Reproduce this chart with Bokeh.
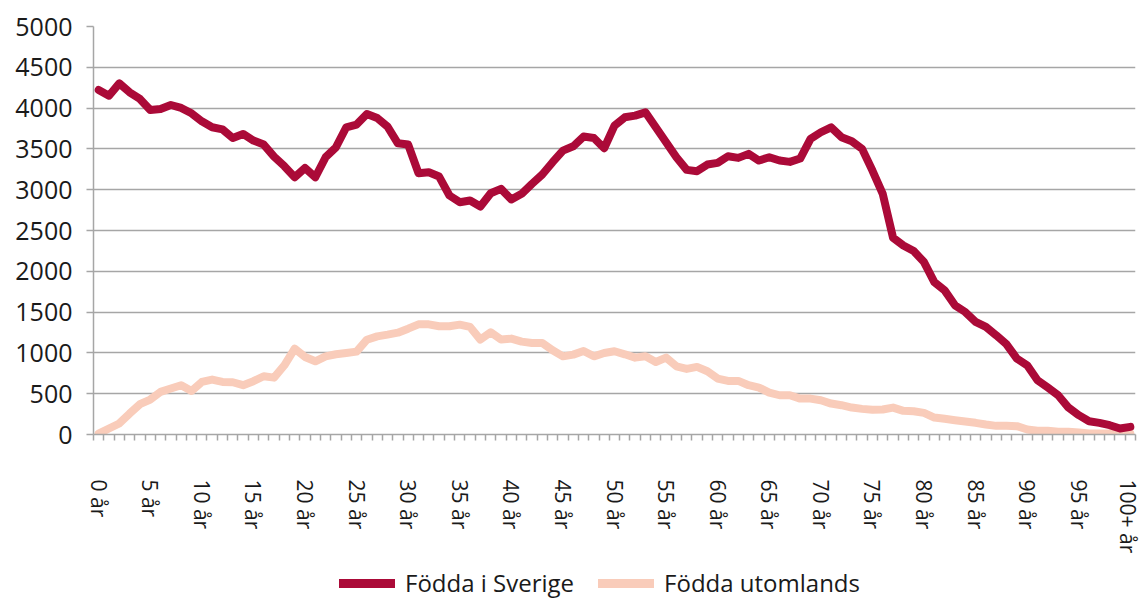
import math
from bokeh.plotting import figure
from bokeh.layouts import column
from bokeh.models import FixedTicker, Legend, LegendItem, Range1d
from bokeh.embed import file_html
from bokeh.resources import INLINE

ages = list(range(0, 101))
age_labels = [f"{a} år" for a in range(0, 100)] + ["100+ år"]

fodda_sverige = [
    4222, 4152, 4303, 4193, 4112, 3977, 3989, 4038, 4002, 3936,
    3838, 3765, 3740, 3634, 3683, 3602, 3553, 3406, 3288, 3153,
    3267, 3153, 3398, 3520, 3765, 3798, 3928, 3879, 3773, 3569,
    3553, 3202, 3214, 3161, 2929, 2847, 2868, 2794, 2957, 3010,
    2880, 2949, 3071, 3186, 3337, 3479, 3532, 3651, 3634, 3508,
    3785, 3887, 3908, 3948, 3765, 3581, 3398, 3243, 3227, 3308,
    3329, 3410, 3390, 3439, 3357, 3398, 3357, 3341, 3382, 3622,
    3704, 3765, 3643, 3594, 3500, 3235, 2949, 2411, 2317, 2248,
    2113, 1868, 1766, 1583, 1501, 1379, 1318, 1216, 1105, 930,
    848, 665, 575, 481, 330, 237, 163, 143, 114, 73,
    94,
]

fodda_utomlands = [
    10, 73, 135, 257, 371, 428, 522, 563, 604, 534,
    644, 673, 644, 640, 604, 653, 714, 697, 848, 1052,
    950, 897, 958, 983, 999, 1016, 1162, 1203, 1224, 1248,
    1297, 1350, 1350, 1326, 1326, 1346, 1318, 1163, 1252, 1163,
    1175, 1138, 1122, 1122, 1032, 958, 979, 1024, 958, 999,
    1020, 983, 942, 958, 889, 942, 836, 804, 828, 775,
    685, 657, 657, 604, 575, 514, 481, 481, 440, 440,
    420, 379, 359, 330, 314, 302, 306, 330, 290, 285,
    265, 208, 192, 175, 159, 143, 122, 106, 106, 102,
    61, 45, 45, 33, 33, 24, 12, 12, 12, 12,
    12,
]

y_ticks = [0, 500, 1000, 1500, 2000, 2500, 3000, 3500, 4000, 4500, 5000]
series_names = ["Födda i Sverige", "Födda utomlands"]
series_colors = ["#AB0A38", "#F9CCBA"]

FONT = "Open Sans"
GRID = "#a6a6a6"
TEXT = "#1a1a1a"

n = len(ages)
p = figure(
    width=1141, height=565,
    x_range=Range1d(-0.5, n - 0.5),
    y_range=Range1d(0, 5000),
    output_backend="svg",
    toolbar_location=None,
    min_border_left=93, min_border_right=6, min_border_top=26,
    min_border_bottom=131,
)
p.outline_line_color = None

r2 = p.line(ages, fodda_utomlands, line_color=series_colors[1], line_width=8,
            line_join="round", line_cap="round")
r1 = p.line(ages, fodda_sverige, line_color=series_colors[0], line_width=8,
            line_join="round", line_cap="round")

# x axis
xt = FixedTicker(ticks=list(range(0, n, 5)),
                 minor_ticks=[i - 0.5 for i in range(0, n + 1)])
p.xaxis.ticker = xt
p.xaxis.major_label_overrides = {i: age_labels[i] for i in range(0, n, 5)}
p.xaxis.major_label_orientation = -math.pi / 2
p.xaxis.major_tick_in = 0
p.xaxis.major_tick_out = 0
p.xaxis.minor_tick_in = 0
p.xaxis.minor_tick_out = 6
p.xaxis.minor_tick_line_color = GRID
p.xaxis.minor_tick_line_width = 1.5
p.xaxis.axis_line_color = GRID
p.xaxis.axis_line_width = 1.5
p.xaxis.major_label_standoff = 39
p.xaxis.major_label_text_font = FONT
p.xaxis.major_label_text_font_size = "21px"
p.xaxis.major_label_text_color = TEXT

# y axis
p.yaxis.ticker = FixedTicker(ticks=y_ticks)
p.yaxis.major_tick_in = 0
p.yaxis.major_tick_out = 7
p.yaxis.major_tick_line_color = GRID
p.yaxis.major_tick_line_width = 1.5
p.yaxis.minor_tick_line_color = None
p.yaxis.axis_line_color = GRID
p.yaxis.axis_line_width = 1.5
p.yaxis.major_label_standoff = 14
p.yaxis.major_label_text_font = FONT
p.yaxis.major_label_text_font_size = "25px"
p.yaxis.major_label_text_color = TEXT

p.xgrid.grid_line_color = None
p.ygrid.ticker = FixedTicker(ticks=y_ticks)
p.ygrid.grid_line_color = GRID
p.ygrid.grid_line_width = 1.5

# legend strip below the chart (its ranges keep the series out of view,
# so only the legend swatches are drawn)
lf = figure(
    width=1141, height=34,
    x_range=Range1d(0, 1), y_range=Range1d(-2, -1),
    output_backend="svg", toolbar_location=None,
    min_border_left=0, min_border_right=0, min_border_top=0, min_border_bottom=0,
)
lf.axis.visible = False
lf.grid.visible = False
lf.outline_line_color = None
l1 = lf.line(ages, fodda_sverige, line_color=series_colors[0], line_width=9,
             line_cap="round")
l2 = lf.line(ages, fodda_utomlands, line_color=series_colors[1], line_width=9,
             line_cap="round")

legend = Legend(
    items=[LegendItem(label=series_names[0], renderers=[l1]),
           LegendItem(label=series_names[1], renderers=[l2])],
    orientation="horizontal",
    location=(246, 0),
    label_text_font=FONT,
    label_text_font_size="24px",
    label_text_color=TEXT,
    glyph_width=56,
    glyph_height=22,
    spacing=24,
    label_standoff=10,
    border_line_color=None,
    background_fill_alpha=0,
    margin=0,
    padding=2,
)
lf.add_layout(legend, "center")

layout = column(p, lf, spacing=0)
open("out.html", "w").write(file_html(layout, INLINE))
